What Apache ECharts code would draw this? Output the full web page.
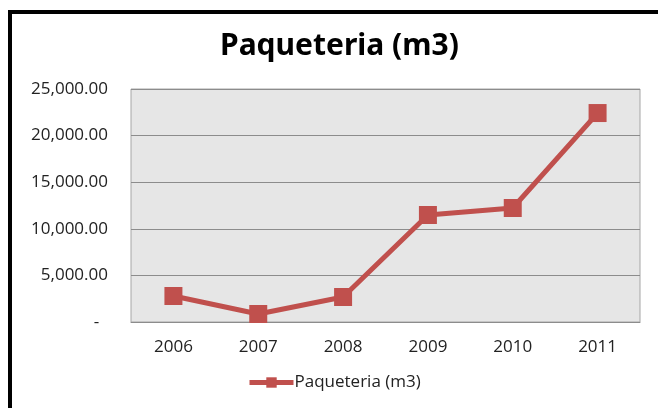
<!DOCTYPE html>
<html>
<head>
<meta charset="utf-8">
<script src="https://cdn.jsdelivr.net/npm/echarts@6/dist/echarts.min.js"></script>
<style>
  html, body { margin: 0; padding: 0; background: #fff; }
  #frame {
    position: absolute; left: 8px; top: 10px;
    width: 700px; height: 450px;
    border-left: 4px solid #000; border-top: 4px solid #000;
  }
  #chart { position: absolute; left: 0; top: 0; width: 658px; height: 408px; }
</style>
</head>
<body>
<div id="frame"></div>
<div id="chart"></div>
<script>
// datos
const years = ["2006", "2007", "2008", "2009", "2010", "2011"];
const paqueteria = [2790, 860, 2680, 11480, 12230, 22420];
const seriesName = "Paqueteria (m3)";

const fmt = function (v) {
  if (v === 0) return "-  ";
  return v.toLocaleString("en-US", { minimumFractionDigits: 2, maximumFractionDigits: 2 });
};

const chart = echarts.init(document.getElementById("chart"));
chart.setOption({
  animation: false,
  textStyle: { fontFamily: "Open Sans" },
  title: {
    text: seriesName,
    left: 215,
    top: 26,
    textStyle: { fontFamily: "Noto Sans", fontSize: 30, fontWeight: "bold", color: "#000" }
  },
  grid: {
    left: 131, right: 18, top: 89, bottom: 86,
    show: true, backgroundColor: "#e6e6e6", borderColor: "#a6a6a6", borderWidth: 1
  },
  legend: {
    bottom: 12,
    left: 242,
    itemWidth: 44,
    itemHeight: 13,
    itemGap: 4,
    lineStyle: { width: 5 },
    textStyle: { fontSize: 17, color: "#222", padding: [0, 0, 0, -4] },
    data: [seriesName]
  },
  xAxis: {
    type: "category",
    data: years,
    boundaryGap: true,
    axisLine: { show: true, lineStyle: { color: "#8c8c8c" } },
    axisTick: { show: false },
    axisLabel: { fontSize: 17, color: "#222", margin: 17 },
    splitLine: { show: false }
  },
  yAxis: {
    type: "value",
    min: 0, max: 25000, interval: 5000,
    axisLine: { show: false },
    axisTick: { show: false },
    axisLabel: { fontSize: 17, color: "#222", margin: 23, formatter: fmt },
    splitLine: { show: true, lineStyle: { color: "#8c8c8c", width: 1 } }
  },
  series: [{
    name: seriesName,
    type: "line",
    data: paqueteria,
    symbol: "rect",
    symbolSize: 18,
    lineStyle: { color: "#c0504d", width: 5 },
    itemStyle: { color: "#c0504d" }
  }]
});
</script>
</body>
</html>
